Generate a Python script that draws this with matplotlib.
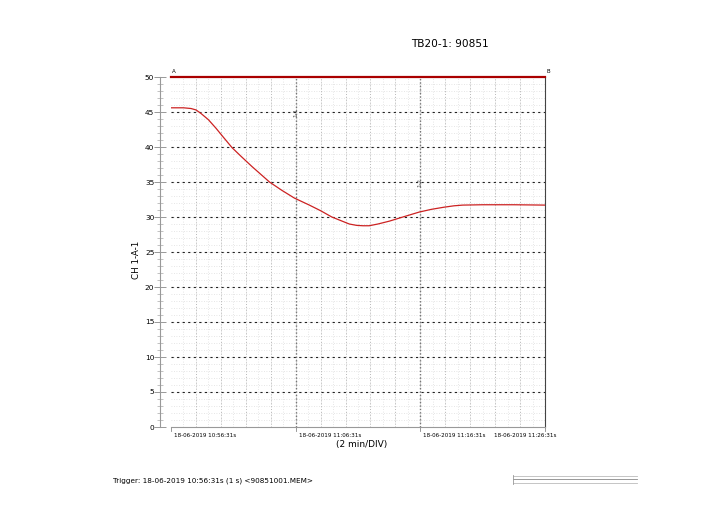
import matplotlib
matplotlib.use("Agg")
import matplotlib.pyplot as plt
from matplotlib.lines import Line2D
import numpy as np

# data (minutes after trigger, value)
minutes = [0.0, 1.0, 1.6, 2.0, 2.4, 3.0, 3.6, 4.2, 4.9, 5.6, 6.5, 7.2, 7.9, 8.9, 9.9,
           11.1, 12.0, 12.9, 13.6, 14.3, 14.9, 15.4, 15.9, 16.6, 17.5, 18.6,
           19.9, 20.9, 21.9, 22.7, 23.4, 25.0, 27.5, 30.0]
values = [45.6, 45.6, 45.5, 45.3, 44.8, 43.9, 42.7, 41.4, 39.9, 38.7, 37.2, 36.1,
          35.0, 33.8, 32.7, 31.7, 30.9, 30.0, 29.5, 29.0, 28.8, 28.75, 28.75,
          29.0, 29.4, 30.0, 30.7, 31.1, 31.4, 31.6, 31.7, 31.75, 31.75, 31.7]

y_ticks = [0, 5, 10, 15, 20, 25, 30, 35, 40, 45, 50]
x_ticks = [0, 10, 20, 30]
x_tick_labels = ["18-06-2019 10:56:31s", "18-06-2019 11:06:31s",
                 "18-06-2019 11:16:31s", "18-06-2019 11:26:31s"]
title = "TB20-1: 90851"
trigger_text = "Trigger: 18-06-2019 10:56:31s (1 s) <90851001.MEM>"

fig = plt.figure(figsize=(7.02, 5.25), dpi=100)
ax = fig.add_axes([171 / 702, 1 - 427 / 525, 374 / 702, 350 / 525])
ax.set_xlim(0, 30)
ax.set_ylim(0, 50)

# fine light grid
for v in np.arange(1, 50, 1):
    ax.axhline(v, color="#dddddd", lw=0.6, ls=(0, (1, 2)), zorder=0)
for t in np.arange(1, 30, 1):
    ax.axvline(t, color="#dddddd", lw=0.6, ls=(0, (1, 2)), zorder=0)
# 2 min divisions
for t in np.arange(2, 30, 2):
    ax.axvline(t, color="#bbbbbb", lw=0.7, ls=(0, (1, 2)), zorder=1)
# major horizontal lines every 5
for v in y_ticks[1:-1]:
    ax.axhline(v, color="#222222", lw=0.8, ls=(0, (2, 3)), zorder=2)

# cursors
for t, yl, lab in [(10, 45, "1-1"), (20, 35, "1-2")]:
    ax.axvline(t, color="#777777", lw=1.0, ls=(0, (1, 1.5)), zorder=2)
    ax.text(t, yl, lab, rotation=90, fontsize=4, ha="center", va="center",
            color="#444444", zorder=3)

# channel trace
ax.plot(minutes, values, color="#cc2222", lw=0.9, zorder=4)
# saturated channel at top
ax.plot([0, 30], [50, 50], color="#aa0000", lw=1.6, zorder=5, clip_on=False)
ax.text(0.1, 50.4, "A", fontsize=4, ha="left", va="bottom")
ax.text(30.1, 50.4, "B", fontsize=4, ha="left", va="bottom")

# axes styling
ax.spines["top"].set_visible(False)
ax.spines["right"].set_color("#444444")
ax.spines["bottom"].set_color("#999999")
ax.spines["left"].set_color("#999999")
ax.spines["left"].set_position(("outward", 8))
ax.set_yticks(y_ticks)
ax.set_yticks(np.arange(0, 51, 1), minor=True)
ax.tick_params(axis="y", which="major", direction="inout", length=8, width=0.6,
               color="#888888", labelsize=5.3, pad=0)
ax.tick_params(axis="y", which="minor", direction="inout", length=4, width=0.5,
               color="#aaaaaa")
ax.set_xticks([])
ax.set_ylabel("CH 1-A-1", fontsize=6.3)
ax.yaxis.set_label_coords(-0.08, 0.477)

for t, lab in zip(x_ticks, x_tick_labels):
    if t == 30:
        ax.text(t + 0.95, -0.8, lab, fontsize=4.1, ha="right", va="top")
    else:
        ax.text(t + 0.25, -0.8, lab, fontsize=4.1, ha="left", va="top")
    ax.plot([t, t], [-0.6, 0], color="#888888", lw=0.6, clip_on=False)

fig.text(362 / 702, 1 - 445 / 525, "(2 min/DIV)", fontsize=6.5, ha="center",
         va="center")
fig.text(450 / 702, 1 - 44 / 525, title, fontsize=7.6, ha="center", va="center")
fig.text(113 / 702, 1 - 481 / 525, trigger_text, fontsize=5.2, ha="left",
         va="center")

# small legend box at bottom right
for yy, c in [(476, "#bbbbbb"), (479, "#888888"), (483, "#bbbbbb")]:
    fig.add_artist(Line2D([513 / 702, 637 / 702], [1 - yy / 525, 1 - yy / 525],
                          color=c, lw=0.6))
fig.add_artist(Line2D([513 / 702, 513 / 702], [1 - 475 / 525, 1 - 484 / 525],
                      color="#999999", lw=0.6))

fig.savefig("out.png", dpi=100)
